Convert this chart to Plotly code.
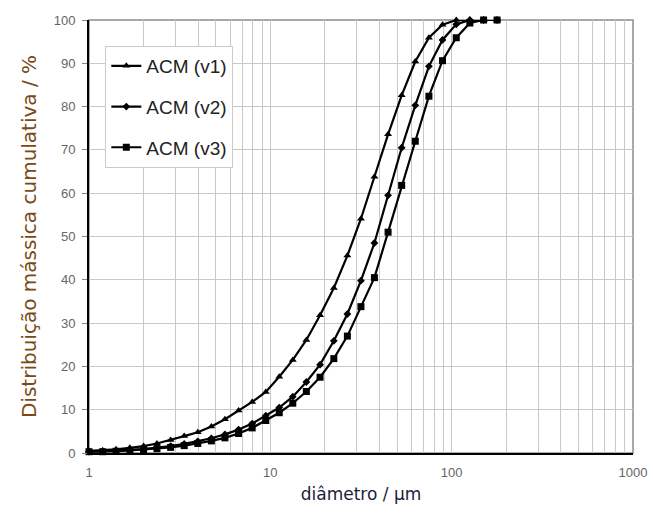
import plotly.graph_objects as go

# Particle size grid (µm) and cumulative mass distribution (%) for three samples
diametro = [1.00, 1.19, 1.41, 1.68, 2.00, 2.37, 2.82, 3.35, 3.98, 4.73, 5.62, 6.68,
            7.94, 9.44, 11.2, 13.3, 15.8, 18.8, 22.4, 26.6, 31.6, 37.5, 44.6, 53.0,
            63.0, 74.9, 89.0, 106, 126, 150, 178]

acm_v1 = [0.5, 0.6, 0.85, 1.2, 1.6, 2.2, 3.0, 3.9, 4.8, 6.1, 7.8, 9.8, 11.8, 14.1,
          17.6, 21.5, 26.1, 31.8, 38.1, 45.6, 54.1, 63.8, 73.6, 82.6, 90.4, 95.9,
          98.9, 100, 100, 100, 100]
acm_v2 = [0.3, 0.4, 0.5, 0.7, 0.9, 1.2, 1.6, 2.1, 2.7, 3.4, 4.3, 5.4, 6.8, 8.6,
          10.5, 13.0, 16.4, 20.4, 25.9, 32.1, 39.8, 48.5, 59.5, 70.5, 80.3, 89.3,
          95.4, 99.0, 100, 100, 100]
acm_v3 = [0.3, 0.3, 0.4, 0.6, 0.8, 1.0, 1.3, 1.7, 2.2, 2.8, 3.5, 4.5, 5.8, 7.5,
          9.3, 11.5, 14.2, 17.5, 21.8, 27.0, 33.8, 40.5, 51.0, 61.8, 72.0, 82.4,
          90.6, 95.9, 99.3, 100, 100]

series_names = ["ACM (v1)", "ACM (v2)", "ACM (v3)"]
series_values = [acm_v1, acm_v2, acm_v3]
series_symbols = ["triangle-up", "diamond", "square"]
series_sizes = [7, 6, 7]

x_tickvals = [1, 10, 100, 1000]
x_ticktext = ["1", "10", "100", "1000"]
x_minor = [m * d for d in (1, 10, 100) for m in range(2, 10)]

fig = go.Figure()
for i, (name, vals, sym, sz) in enumerate(zip(series_names, series_values,
                                              series_symbols, series_sizes)):
    fig.add_trace(go.Scatter(
        x=diametro, y=vals, name=name, mode="lines+markers",
        line=dict(color="black", width=2.2),
        marker=dict(symbol=sym, size=sz, color="black"),
        legendgroup=f"g{i}", cliponaxis=False,
    ))

grid_col = "#c8c8c8"
fig.update_xaxes(
    type="log", range=[0, 3],
    tickvals=x_tickvals, ticktext=x_ticktext,
    showgrid=True, gridcolor=grid_col, gridwidth=1,
    minor=dict(tickvals=x_minor, showgrid=True, gridcolor=grid_col, gridwidth=1, ticks=""),
    showline=True, linecolor="black", linewidth=2,
    ticks="", ticklabelstandoff=6,
    tickfont=dict(family="Liberation Sans", size=13, color="#666666"),
    title=dict(text="diâmetro / µm", standoff=10,
               font=dict(family="DejaVu Sans", size=17, color="#1c1c3a")),
    zeroline=False, automargin=False,
)
fig.update_yaxes(
    range=[0, 100], dtick=10,
    showgrid=True, gridcolor=grid_col, gridwidth=1,
    showline=True, linecolor="black", linewidth=2,
    ticks="outside", ticklen=5, tickcolor="#888888", ticklabelstandoff=4,
    tickfont=dict(family="Liberation Sans", size=13, color="#666666"),
    title=dict(text="Distribuição mássica cumulativa / %", standoff=12,
               font=dict(family="DejaVu Sans", size=20, color="#7a4a16")),
    zeroline=False, automargin=False,
)

# light frame on the top and right sides of the plotting area
fig.add_shape(type="rect", xref="paper", yref="paper", x0=0, y0=0, x1=1, y1=1,
              line=dict(color="#8c8c8c", width=1.5), layer="below")

fig.update_layout(
    width=653, height=521,
    margin=dict(l=89, r=20, t=20, b=68),
    paper_bgcolor="white", plot_bgcolor="white",
    showlegend=True,
    legend=dict(
        x=0.03, y=0.94, xanchor="left", yanchor="top",
        bgcolor="white", bordercolor="#cccccc", borderwidth=1,
        font=dict(family="Liberation Sans", size=19, color="#222222"),
        traceorder="grouped", tracegroupgap=13, itemwidth=30,
    ),
)

fig.write_html("out.html")
